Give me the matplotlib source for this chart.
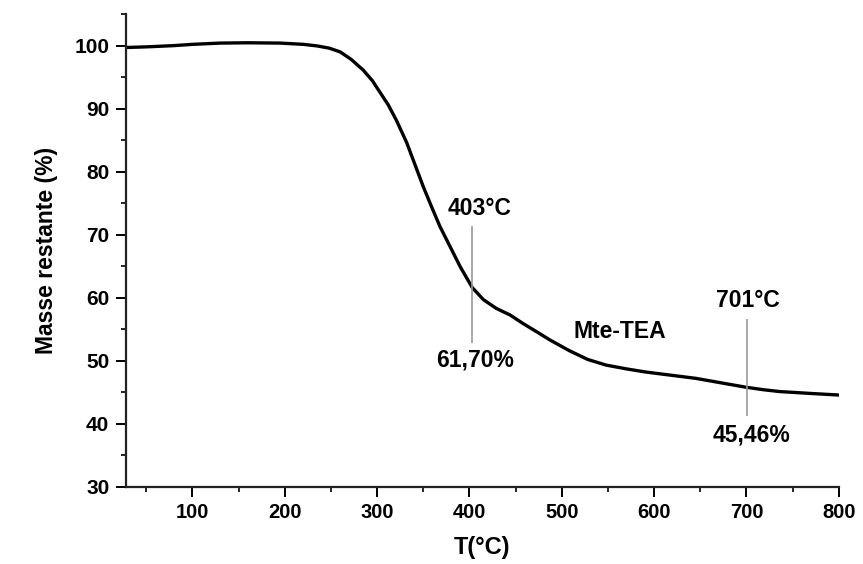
import matplotlib
matplotlib.use('Agg')
import matplotlib.pyplot as plt
from matplotlib.ticker import MultipleLocator

# courbe ATG Mte-TEA
temperature = [28, 50, 80, 100, 130, 160, 195, 220, 235, 248, 260, 272, 285,
               295, 303, 312, 321, 332, 341, 350, 359, 368, 379, 390, 403,
               415, 429, 444, 458, 476, 487, 508, 528, 548, 570,
               591, 618, 645, 672, 699, 718, 736, 770, 800]
masse = [99.7, 99.8, 100.0, 100.2, 100.4, 100.45, 100.4, 100.2, 99.95, 99.6,
         99.0, 97.8, 96.1, 94.4, 92.6, 90.6, 88.1, 84.6, 81.1, 77.6, 74.4,
         71.3, 68.1, 64.9, 61.6, 59.7, 58.3, 57.25, 55.9, 54.3, 53.3,
         51.6, 50.2, 49.3, 48.7, 48.2, 47.7, 47.2, 46.5, 45.8, 45.4,
         45.1, 44.8, 44.55]

marqueurs_t = [403, 701]
marqueurs_haut = [71.3, 56.6]
marqueurs_bas = [52.8, 41.2]

plt.rcParams['font.family'] = ['Liberation Sans', 'DejaVu Sans']
plt.rcParams['font.weight'] = 'bold'

fig = plt.figure(figsize=(8.63, 5.64), dpi=100)
ax = fig.add_axes([0.146, 0.137, 0.826, 0.838])

ax.plot(temperature, masse, color='black', lw=2.4, solid_joinstyle='round')
ax.vlines(marqueurs_t, marqueurs_bas, marqueurs_haut, color='#999999', lw=1.2)

taille = 16.5
ax.text(411, 74.2, '403°C', fontsize=taille, fontweight='bold', ha='center', va='center')
ax.text(406, 50.1, '61,70%', fontsize=taille, fontweight='bold', ha='center', va='center')
ax.text(563, 54.6, 'Mte-TEA', fontsize=taille, fontweight='bold', ha='center', va='center')
ax.text(701, 59.6, '701°C', fontsize=taille, fontweight='bold', ha='center', va='center')
ax.text(705, 38.2, '45,46%', fontsize=taille, fontweight='bold', ha='center', va='center')

ax.set_xlim(28, 800)
ax.set_ylim(30, 105)
ax.xaxis.set_major_locator(MultipleLocator(100))
ax.xaxis.set_minor_locator(MultipleLocator(50))
ax.yaxis.set_major_locator(MultipleLocator(10))
ax.yaxis.set_minor_locator(MultipleLocator(5))

for s in ['top', 'right']:
    ax.spines[s].set_visible(False)
for s in ['left', 'bottom']:
    ax.spines[s].set_linewidth(1.6)
    ax.spines[s].set_color('#222222')

ax.tick_params(which='major', direction='out', length=7, width=1.4, pad=5)
ax.tick_params(which='minor', direction='out', length=3.5, width=1.2)
ax.tick_params(axis='x', labelsize=14.5)
ax.tick_params(axis='y', labelsize=15)

ax.set_xlabel('T(°C)', fontsize=17, fontweight='bold', labelpad=10)
ax.set_ylabel('Masse restante (%)', fontsize=16.5, fontweight='bold', labelpad=12)

fig.savefig('out.png', dpi=100)
